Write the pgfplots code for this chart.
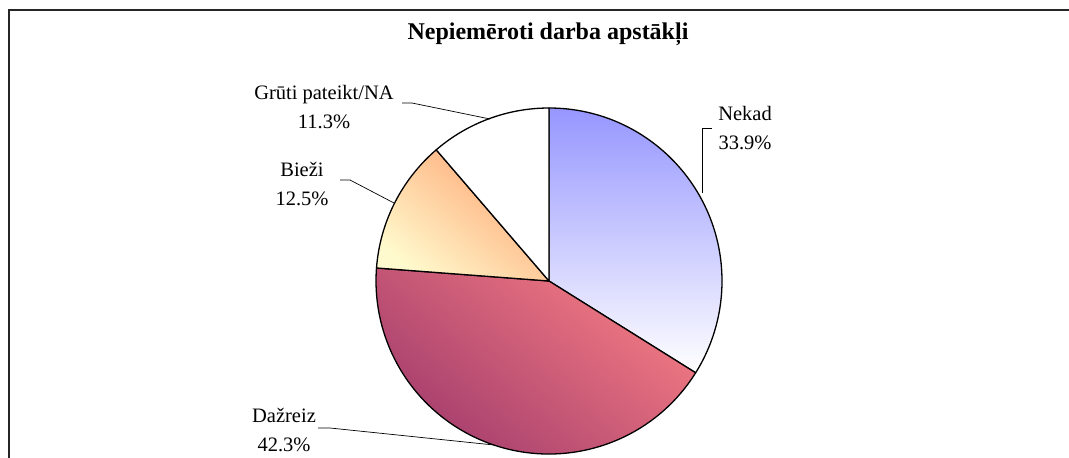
\documentclass[border=0pt]{standalone}
\usepackage{pgfplots}
\pgfplotsset{compat=1.18}
\usepackage{pgfplotstable}
\usepackage{fontspec}
\setmainfont{Liberation Serif}

\pgfplotstableread{
label value
Nekad 33.9
Dažreiz 42.3
Bieži 12.5
Grūti 11.3
}\piedata

\definecolor{nekadtop}{RGB}{150,150,255}
\definecolor{dazpink}{RGB}{242,122,130}
\definecolor{dazpurple}{RGB}{160,58,108}
\definecolor{biezorange}{RGB}{255,165,115}
\definecolor{biezyellow}{RGB}{255,250,205}

\newcommand\pieslice[3]{%
  \path[#3] (axis cs:549,281) -- ++(#1:173pt) arc[start angle=#1, end angle=#2, radius=173pt] -- cycle;}
\newcommand\pct[1]{\pgfmathprintnumber[assume math mode=true,fixed,precision=1,fixed zerofill]{#1}\%}

\begin{document}
\begin{tikzpicture}
\begin{axis}[at={(0,0)}, anchor=south west, scale only axis,
  width=1069pt, height=458pt, xmin=0, xmax=1069, ymin=0, ymax=458,
  y dir=reverse, hide axis, clip=false]
\pgfplotsextra{
  \pgfplotstablegetelem{0}{value}\of\piedata \pgfmathsetmacro\vA{\pgfplotsretval}
  \pgfplotstablegetelem{1}{value}\of\piedata \pgfmathsetmacro\vB{\pgfplotsretval}
  \pgfplotstablegetelem{2}{value}\of\piedata \pgfmathsetmacro\vC{\pgfplotsretval}
  \pgfplotstablegetelem{3}{value}\of\piedata \pgfmathsetmacro\vD{\pgfplotsretval}
  \pgfmathsetmacro\aA{90-3.6*\vA}
  \pgfmathsetmacro\aB{\aA-3.6*\vB}
  \pgfmathsetmacro\aC{\aB-3.6*\vC}
  \pgfmathsetmacro\aD{\aC-3.6*\vD}
  % frame
  \draw[line width=1.6pt, black!85] (axis cs:9,480) -- (axis cs:9,10) -- (axis cs:1090,10);
  % slices
  \pieslice{90}{\aA}{top color=nekadtop, bottom color=white, draw=black, line width=1.3pt, line join=round}
  \pieslice{\aA}{\aB}{top color=dazpink, bottom color=dazpurple, shading angle=-40, draw=black, line width=1.3pt, line join=round}
  \pieslice{\aB}{\aC}{top color=biezorange, bottom color=biezyellow, shading angle=-40, draw=black, line width=1.3pt, line join=round}
  \pieslice{\aC}{\aD}{fill=white, draw=black, line width=1.3pt, line join=round}
  % leader lines
  \draw[line width=0.7pt] (axis cs:712,128) -- (axis cs:702,128) -- (axis cs:702,193);
  \draw[line width=0.7pt] (axis cs:402,103) -- (axis cs:412,103) -- (axis cs:490,119);
  \draw[line width=0.7pt] (axis cs:340,180) -- (axis cs:350,180) -- (axis cs:394,203);
  \draw[line width=0.7pt] (axis cs:318,428) -- (axis cs:330,428) -- (axis cs:494,445);
  % labels
  \tikzset{lbl/.style={align=center, inner sep=0pt, font=\fontsize{20.5}{29}\selectfont}}
  \node[lbl] at (axis cs:745,128) {Nekad\\\pct{\vA}};
  \node[lbl] at (axis cs:284,430) {Dažreiz\\\pct{\vB}};
  \node[lbl] at (axis cs:302,184) {Bieži\\\pct{\vC}};
  \node[lbl] at (axis cs:324,107.5) {Grūti pateikt/NA\\\pct{\vD}};
  \node[inner sep=0pt, font=\fontsize{24}{28}\selectfont\bfseries] at (axis cs:548,34) {Nepiemēroti darba apstākļi};
}
\end{axis}
\pgfresetboundingbox
\useasboundingbox (0,0) rectangle (1069pt,458pt);
\end{tikzpicture}
\end{document}
